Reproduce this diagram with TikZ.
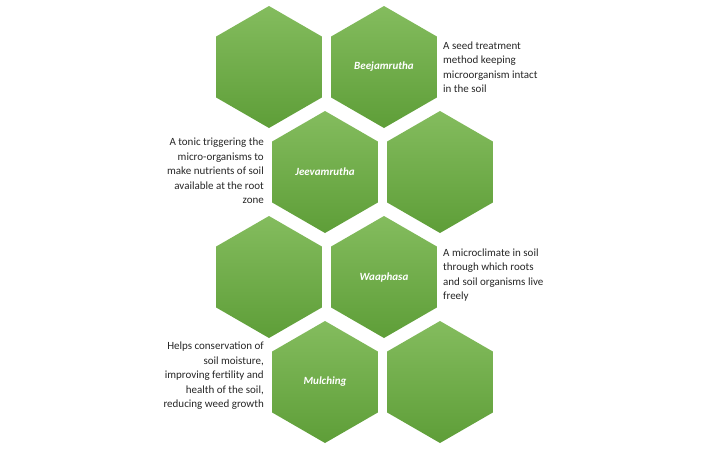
\documentclass[tikz,border=0pt]{standalone}
\usepackage{fontspec}
\setmainfont{Carlito}
\usetikzlibrary{shapes.geometric}
\begin{document}
\begin{tikzpicture}[x=1pt,y=-1pt,
  hex/.style={regular polygon,regular polygon sides=6,shape border rotate=30,minimum size=122pt,inner sep=0pt,draw=none,top color=hexTop,bottom color=hexBot,font=\fontsize{11}{13}\selectfont\bfseries\itshape,text=white},
  desc/.style={font=\fontsize{11}{14.5}\selectfont,text=black!85,inner sep=0pt}]
\definecolor{hexTop}{HTML}{84BC5E}
\definecolor{hexBot}{HTML}{5E9E38}
\useasboundingbox (0,0) rectangle (713,448);
\node[hex] (h1) at (269,67) {};
\node[hex] (h2) at (384,67) {Beejamrutha};
\node[hex] (h3) at (325,172) {Jeevamrutha};
\node[hex] (h4) at (440,172) {};
\node[hex] (h5) at (269,277) {};
\node[hex] (h6) at (384,277) {Waaphasa};
\node[hex] (h7) at (325,382) {Mulching};
\node[hex] (h8) at (440,382) {};
\node[desc,anchor=west,align=left] (t1) at (443,67) {A seed treatment\\method keeping\\microorganism intact\\in the soil};
\node[desc,anchor=east,align=right] (t2) at (264,171) {A tonic triggering the\\micro-organisms to\\make nutrients of soil\\available at the root\\zone};
\node[desc,anchor=west,align=left] (t3) at (443,275) {A microclimate in soil\\through which roots\\and soil organisms live\\freely};
\node[desc,anchor=east,align=right] (t4) at (264,376) {Helps conservation of\\soil moisture,\\improving fertility and\\health of the soil,\\reducing weed growth};
\end{tikzpicture}
\end{document}
